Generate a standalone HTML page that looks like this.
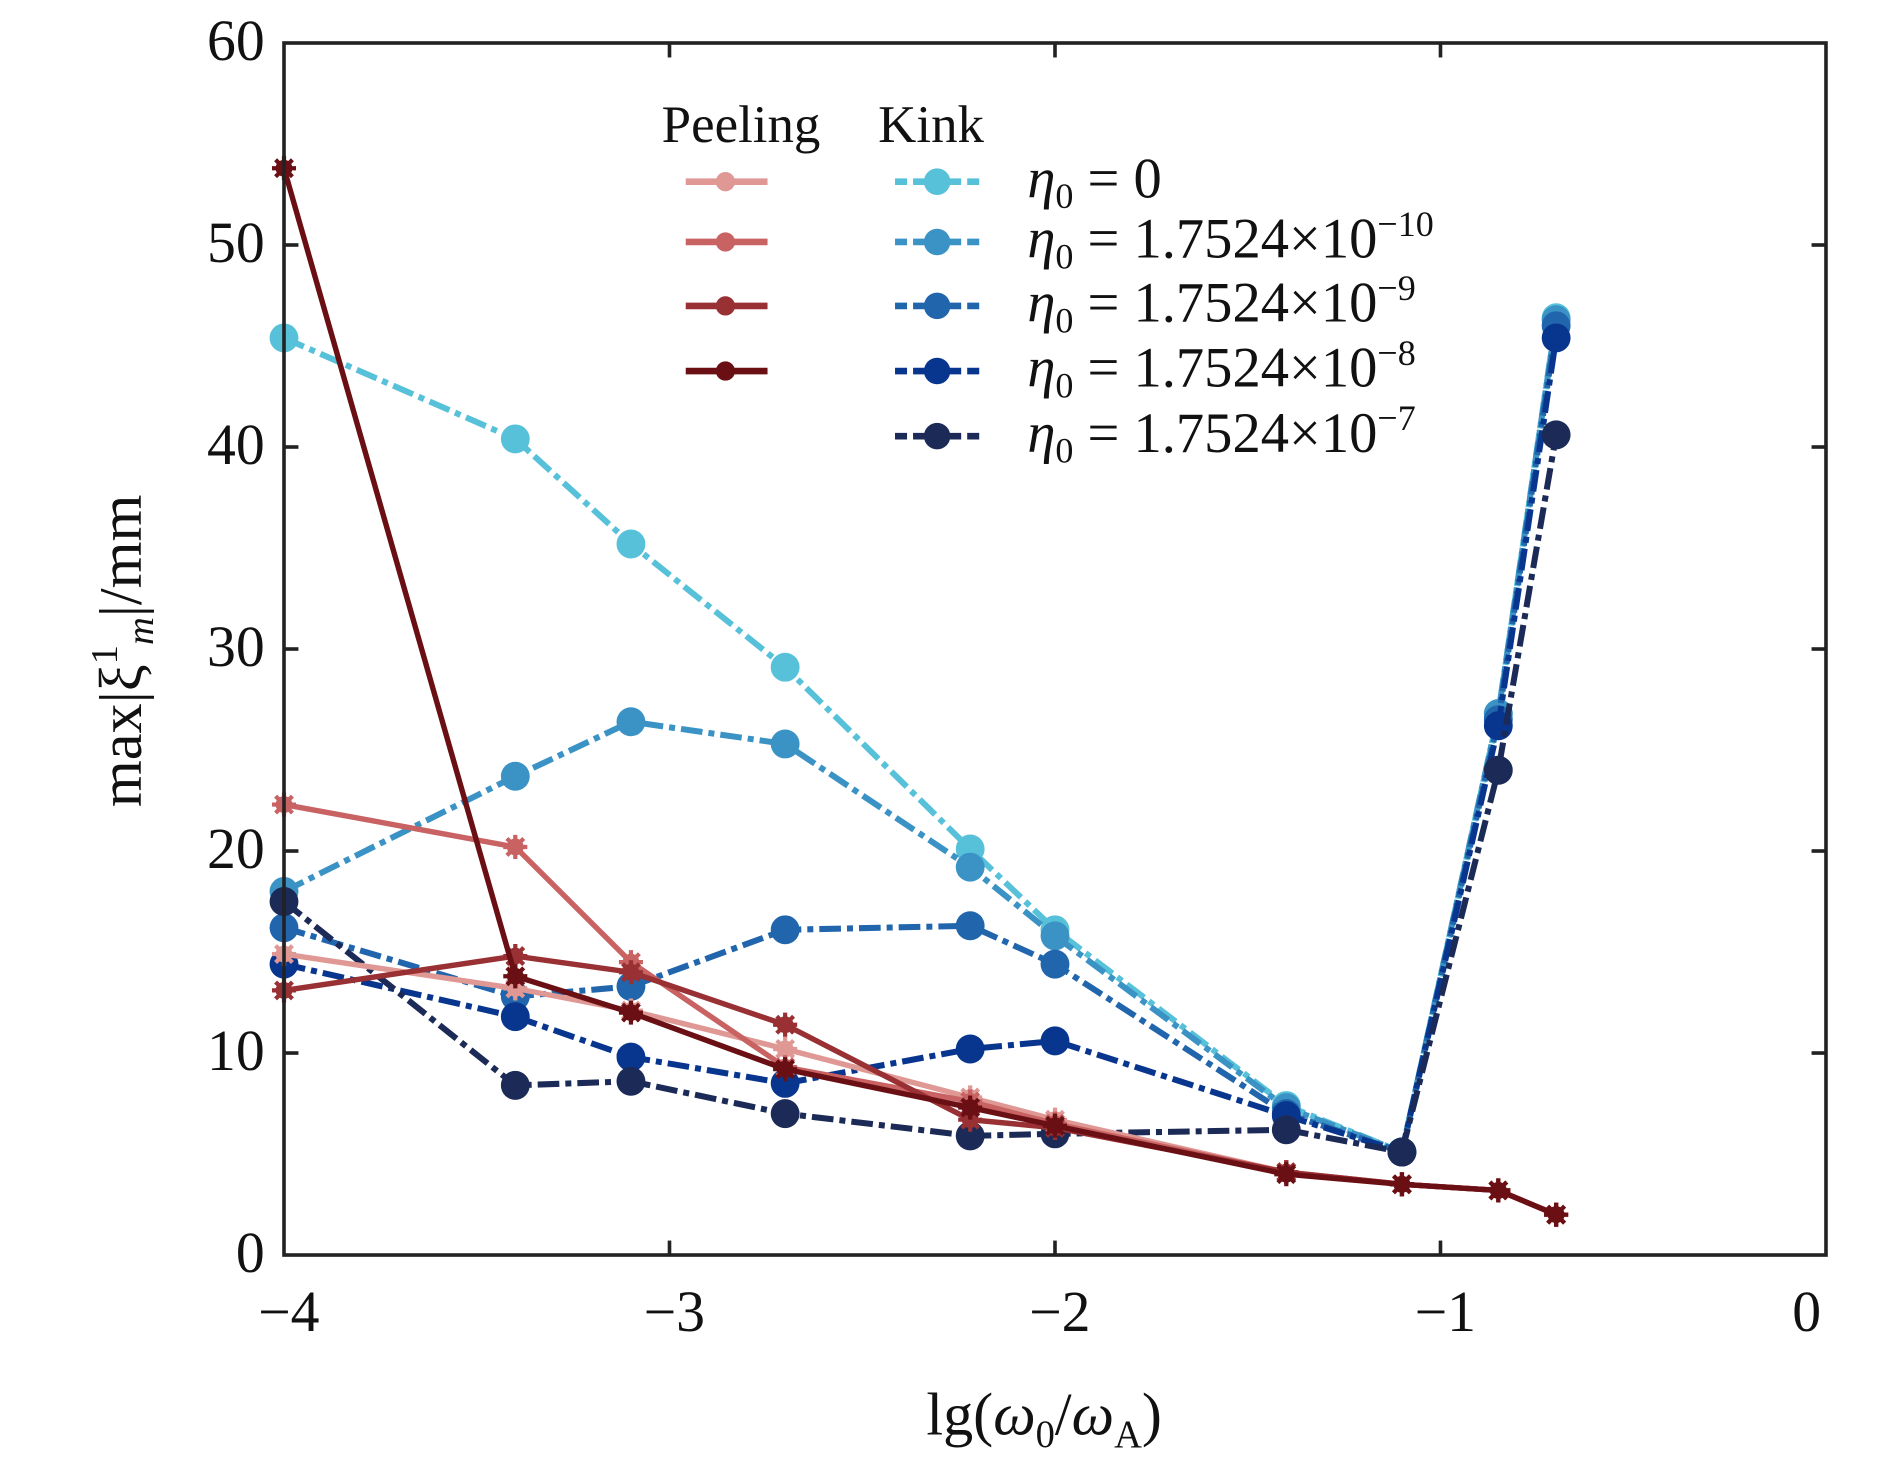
<!DOCTYPE html>
<html><head><meta charset="utf-8"><style>
html,body{margin:0;padding:0;background:#fff;}
svg text{font-family:"Liberation Serif",serif;fill:#111;}
</style></head><body>
<svg id="chart" width="1890" height="1465" viewBox="0 0 1890 1465" xmlns="http://www.w3.org/2000/svg">
<g id="root" transform="translate(284,43) scale(1.2028,1.206) translate(-234,-36)">
<g id="series"></g>
<rect x="234" y="36" width="1282" height="1005" fill="none" stroke="#222" stroke-width="3"/>
<g id="axes"></g>
<text transform="translate(115,540) rotate(-90)" text-anchor="middle" font-size="50">max|ξ<tspan font-size="32" dy="-20">1</tspan><tspan font-size="32" dy="30" font-style="italic">m</tspan><tspan dy="-10">|/mm</tspan></text>
<text x="866" y="1190" text-anchor="middle" font-size="50">lg(<tspan font-style="italic">ω</tspan><tspan font-size="32" dy="10">0</tspan><tspan dy="-10">/</tspan><tspan font-style="italic">ω</tspan><tspan font-size="32" dy="10">A</tspan><tspan dy="-10">)</tspan></text>
<g id="legend"></g>
</g>
</svg>
<script>
const xValues = [-4, -3.4, -3.1, -2.7, -2.22, -2, -1.4, -1.1, -0.85, -0.7];
const kink0 = [45.4, 40.4, 35.2, 29.1, 20.1, 16.1, 7.4, 5.1, 26.8, 46.4];
const kink1 = [18.0, 23.7, 26.4, 25.3, 19.2, 15.8, 7.3, 5.1, 26.8, 46.3];
const kink2 = [16.2, 12.8, 13.3, 16.1, 16.3, 14.4, 7.0, 5.1, 26.5, 46.0];
const kink3 = [14.4, 11.8, 9.8, 8.5, 10.2, 10.6, 6.9, 5.1, 26.2, 45.4];
const kink4 = [17.5, 8.4, 8.6, 7.0, 5.9, 6.0, 6.2, 5.1, 24.0, 40.6];
const peel0 = [14.9, 13.2, 12.1, 10.2, 7.8, 6.7, 4.1, 3.5, 3.2, 2.0];
const peel1 = [22.3, 20.2, 14.5, 9.3, 7.6, 6.5, 4.1, 3.5, 3.2, 2.0];
const peel2 = [13.1, 14.8, 14.0, 11.4, 6.7, 6.3, 4.1, 3.5, 3.2, 2.0];
const peel3 = [53.8, 13.8, 12.0, 9.2, 7.3, 6.4, 4.0, 3.5, 3.2, 2.0];
const xTicks = [-4, -3, -2, -1, 0];
const xTickLabels = ["−4", "−3", "−2", "−1", "0"];
const yTicks = [0, 10, 20, 30, 40, 50, 60];
const legendLabels = ["0", "1.7524×10", "1.7524×10", "1.7524×10", "1.7524×10"];
const legendExps = ["", "−10", "−9", "−8", "−7"];

const NS = "http://www.w3.org/2000/svg";
function sx(v){ return 234 + (v + 4) / 4 * 1282; }
function sy(v){ return 1041 - v / 60 * 1005; }
function mk(tag, attrs, parent){ const e = document.createElementNS(NS, tag); for (const k in attrs) e.setAttribute(k, attrs[k]); parent.appendChild(e); return e; }

const axes = document.getElementById('axes');
xTicks.forEach((t, i) => {
  const x = sx(t);
  if (t > -4 && t < 0) {
    const a = mk('line', {x1:x, y1:1041, x2:x, y2:1029, stroke:'#222', 'stroke-width':3}, axes);
    
    
    const b = mk('line', {x1:x, y1:36, x2:x, y2:48, stroke:'#222', 'stroke-width':3}, axes);
    
    
  }
  const tx = mk('text', {x:x + (t < 0 ? 4 : -16), y:1104, 'text-anchor':'middle', 'font-size':48}, axes);
  tx.textContent = xTickLabels[i];
  
  
});
yTicks.forEach(t => {
  const y = sy(t);
  if (t > 0 && t < 60) {
    const a = mk('line', {x1:234, y1:y, x2:246, y2:y, stroke:'#222', 'stroke-width':3}, axes);
    
    
    const b = mk('line', {x1:1516, y1:y, x2:1504, y2:y, stroke:'#222', 'stroke-width':3}, axes);
    
    
  }
  const tx = mk('text', {x:218, y:y + 14, 'text-anchor':'end', 'font-size':48}, axes);
  tx.textContent = String(t);
  
  
});

const kinkSeries = [kink0, kink1, kink2, kink3, kink4];
const kinkColors = ['#57c1d9', '#3b93c5', '#2166ad', '#08368f', '#1b2a56'];
const peelSeries = [peel0, peel1, peel2, peel3];
const peelColors = ['#e09894', '#c96262', '#983034', '#6a1015'];
const sg = document.getElementById('series');

function star(g, x, y, c){
  mk('circle', {cx:x, cy:y, r:7, fill:c}, g);
  mk('path', {d:`M${x-10},${y}H${x+10}M${x},${y-10}V${y+10}M${x-7},${y-7}L${x+7},${y+7}M${x-7},${y+7}L${x+7},${y-7}`, stroke:c, 'stroke-width':3.5}, g);
}

kinkSeries.forEach((s, k) => {
  const g = mk('g', {}, sg);
  
  
  const pts = s.map((v, i) => sx(xValues[i]) + ',' + sy(v)).join(' ');
  mk('polyline', {points:pts, fill:'none', stroke:kinkColors[k], 'stroke-width':5, 'stroke-dasharray':'18,5,5,5'}, g);
  s.forEach((v, i) => {
    const c = mk('circle', {cx:sx(xValues[i]), cy:sy(v), r:12, fill:kinkColors[k]}, g);
    
    
  });
});
peelSeries.forEach((s, k) => {
  const g = mk('g', {}, sg);
  
  
  const pts = s.map((v, i) => sx(xValues[i]) + ',' + sy(v)).join(' ');
  mk('polyline', {points:pts, fill:'none', stroke:peelColors[k], 'stroke-width':4.5}, g);
  s.forEach((v, i) => star(g, sx(xValues[i]), sy(v), peelColors[k]));
});

const lg = document.getElementById('legend');
const h1 = mk('text', {x:548, y:118, 'font-size':44}, lg); h1.textContent = 'Peeling';


const h2 = mk('text', {x:728, y:118, 'font-size':44}, lg); h2.textContent = 'Kink';


const rowY = [151, 201, 254, 308, 362];
rowY.forEach((y, r) => {
  if (r < 4) {
    const g = mk('g', {}, lg);
    
    
    mk('line', {x1:568, y1:y, x2:636, y2:y, stroke:peelColors[r], 'stroke-width':5.5}, g);
    mk('circle', {cx:601, cy:y, r:8, fill:peelColors[r]}, g);
  }
  const g2 = mk('g', {}, lg);
  
  
  mk('line', {x1:742, y1:y, x2:812, y2:y, stroke:kinkColors[r], 'stroke-width':5.5, 'stroke-dasharray':'10,5'}, g2);
  mk('circle', {cx:777, cy:y, r:11, fill:kinkColors[r]}, g2);
  const t = mk('text', {x:852, y:y + 13, 'font-size':47}, lg);
  
  
  t.innerHTML = '<tspan font-style="italic">η</tspan><tspan font-size="30" dy="9">0</tspan><tspan dy="-9"> = ' + legendLabels[r] + '</tspan>' + (legendExps[r] ? '<tspan font-size="30" dy="-18">' + legendExps[r] + '</tspan>' : '');
});
</script>
</body></html>
